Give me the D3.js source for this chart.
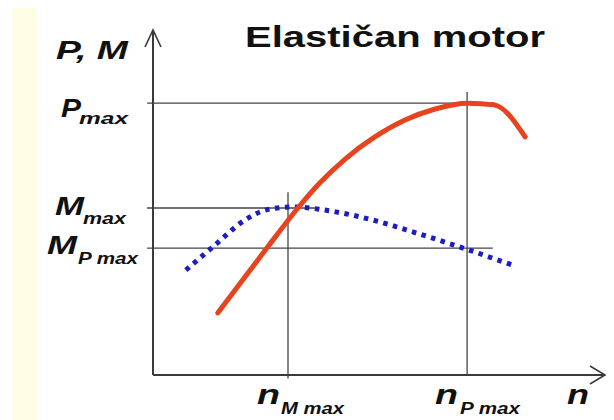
<!DOCTYPE html>
<html>
<head>
<meta charset="utf-8">
<script src="https://cdn.jsdelivr.net/npm/d3@7"></script>
<style>
  body { margin: 0; background: #fff; }
  svg text { font-family: "Liberation Sans", Arial, sans-serif; font-weight: bold; fill: #111; }
</style>
</head>
<body>
<div id="chart"></div>
<script>
// engine speed n (relative units) and curves
const powerN = [14.4, 25.3, 32.2, 37.1, 42.7, 49.3, 56.0, 62.7, 69.8, 75.8, 82.7];
const powerP = [18.0, 36.8, 48.4, 55.7, 62.6, 69.0, 73.9, 77.1, 78.8, 78.3, 69.0];
const torqueN = [7.3, 13.8, 20.4, 26.0, 31.6, 38.2, 48.9, 58.4, 68.9, 79.8];
const torqueM = [30.4, 37.7, 44.9, 48.1, 48.7, 47.8, 44.9, 41.2, 36.8, 31.9];

// characteristic points
const nMmax = 30.0, nPmax = 69.8;
const Pmax = 78.8, Mmax = 48.4, MPmax = 36.8;

const width = 614, height = 420;

const svg = d3.select('#chart').append('svg')
  .attr('width', width)
  .attr('height', height);

// pale strip on the left
svg.append('rect')
  .attr('x', 12).attr('y', 8)
  .attr('width', 25).attr('height', height - 8)
  .attr('fill', '#fffde6');

const x = d3.scaleLinear().domain([0, 100]).range([153, 603]);
const y = d3.scaleLinear().domain([0, 100]).range([375, 30]);

const axisColor = '#3a3a3a';

// helper lines
const guides = [
  {x1: -1.3, y1: Pmax, x2: 76, y2: Pmax},
  {x1: -1.3, y1: Mmax, x2: 37, y2: Mmax},
  {x1: -1.3, y1: MPmax, x2: 75.5, y2: MPmax},
  {x1: nMmax, y1: -1, x2: nMmax, y2: 53},
  {x1: nPmax, y1: 0, x2: nPmax, y2: 82}
];
svg.append('g').selectAll('line').data(guides).join('line')
  .attr('x1', d => x(d.x1)).attr('y1', d => y(d.y1))
  .attr('x2', d => x(d.x2)).attr('y2', d => y(d.y2))
  .attr('stroke', '#444').attr('stroke-width', 1.3);

// axes with open arrowheads
const axes = svg.append('g').attr('stroke', axisColor).attr('fill', 'none')
  .attr('stroke-width', 2);
axes.append('path').attr('d', `M${x(0)},${y(0)}V${y(100)}`);
axes.append('path').attr('d', `M${x(0)},${y(0)}H${x(100) + 2}`);
axes.append('path').attr('stroke-width', 1.6)
  .attr('d', `M${x(0) - 8},${y(100) + 17}L${x(0)},${y(100)}L${x(0) + 8},${y(100) + 17}`);
axes.append('path').attr('stroke-width', 1.6)
  .attr('d', `M${x(100) - 13},${y(0) - 9}L${x(100) + 2},${y(0)}L${x(100) - 13},${y(0) + 9}`);

// torque curve (dotted blue)
const torqueLine = d3.line()
  .x((d, i) => x(torqueN[i]))
  .y(d => y(d))
  .curve(d3.curveMonotoneX);
svg.append('path')
  .datum(torqueM)
  .attr('d', torqueLine)
  .attr('fill', 'none')
  .attr('stroke', '#1c1cc4')
  .attr('stroke-width', 5)
  .attr('stroke-dasharray', '4.5 5.5');

// power curve (red)
const powerLine = d3.line()
  .x((d, i) => x(powerN[i]))
  .y(d => y(d))
  .curve(d3.curveMonotoneX);
svg.append('path')
  .datum(powerP)
  .attr('d', powerLine)
  .attr('fill', 'none')
  .attr('stroke', '#e8431f')
  .attr('stroke-width', 5)
  .attr('stroke-linecap', 'round')
  .attr('stroke-linejoin', 'round');

// texts
function label(txt, px, py, size, len, italic) {
  return svg.append('text')
    .attr('x', px).attr('y', py)
    .attr('font-size', size)
    .attr('font-style', italic ? 'italic' : 'normal')
    .attr('textLength', len)
    .attr('lengthAdjust', 'spacingAndGlyphs')
    .text(txt);
}

label('Elastičan motor', 245, 47, 30, 300, false);
label('P, M', 56, 59, 26, 72, true);

label('P', 61, 117, 25, 20, true);
label('max', 79, 124, 16, 49, true);

label('M', 55, 215, 25, 29, true);
label('max', 83, 224, 16, 43, true);

label('M', 47, 254, 25, 30, true);
label('P max', 78, 264, 16, 60, true);

label('n', 257, 404, 27, 23, true);
label('M max', 281, 414, 16, 63, true);

label('n', 435, 404, 27, 23, true);
label('P max', 460, 414, 16, 60, true);

label('n', 567, 404, 27, 22, true);
</script>
</body>
</html>
